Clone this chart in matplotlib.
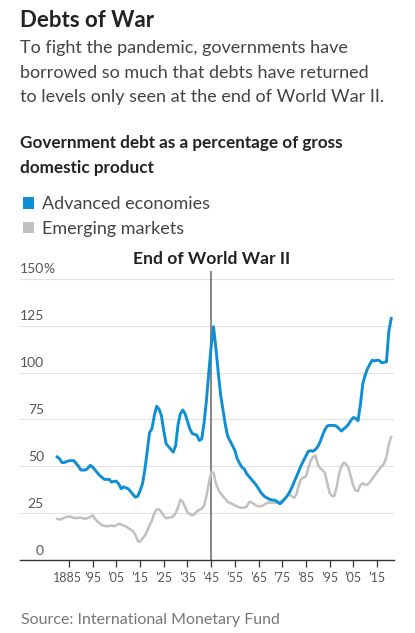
import numpy as np
import matplotlib.pyplot as plt
from matplotlib.patches import Rectangle
import matplotlib.transforms as mtransforms

# yearly values, 1880-2021 (% of GDP)
years = np.arange(1880, 2022)

advanced = [
    55, 54, 52, 52, 52.5, 53, 53, 53, 51.5, 50,
    48, 48, 48, 49, 50.5, 49.5, 48, 46.5, 45, 44,
    43, 43, 43, 41.5, 42, 42, 40.5, 38, 39, 38.5,
    38, 36.5, 35, 33.5, 34, 37, 40.5, 48, 58, 68,
    70, 77, 82, 80.5, 77, 69, 62, 60.5, 59, 57.5,
    61, 72, 78, 80, 78, 74, 70, 67.5, 67, 66.5,
    63.8, 64.5, 73, 85, 100, 114, 124.5, 113, 100, 88,
    80, 72, 66, 63.5, 61, 58.5, 54, 51.5, 49.5, 48.5,
    46, 44.5, 43, 41.5, 40, 38, 36, 34.5, 33.5, 32.8,
    32.2, 32, 31.8, 31, 30, 31, 32.5, 34, 36, 38.5,
    41.5, 44.5, 47.5, 50.5, 53, 55.5, 58, 58.3, 58, 59,
    60.5, 63, 66.5, 69.5, 71.5, 71.8, 71.8, 71.8, 71.3, 70,
    68.8, 70, 71, 72.5, 74.5, 76, 75.5, 74.3, 83, 94,
    98.6, 102, 104.5, 106.6, 106.2, 106.6, 106.4, 105.2, 105.5, 105.7,
    122, 128.8,
]

emerging = [
    22, 21.5, 22, 22.5, 23, 23.2, 23, 22.5, 22.3, 22.5,
    22.5, 22.3, 22, 22.5, 23, 23.8, 22, 20.5, 19.5, 18.5,
    18.2, 18, 18.2, 18.4, 18, 18.5, 19.3, 19, 18.3, 18,
    17, 16.2, 15.3, 13.5, 10.2, 9.8, 11.5, 13, 15.5, 18.5,
    21, 25, 27, 27, 25.5, 23.5, 22.2, 22.5, 22.8, 23.2,
    25, 28, 32.2, 31, 28.2, 25.5, 24.5, 23.8, 24.5, 26,
    26.8, 27.3, 29, 34, 41, 46.9, 46.5, 41, 37.5, 35.5,
    34, 32.5, 31, 30.5, 29.8, 29.1, 28.5, 28, 27.9, 27.9,
    28.5, 30.9, 30.8, 30, 29, 28.6, 28.8, 29.1, 30, 30.6,
    30.6, 30.6, 30.6, 30.8, 31, 31.8, 32.8, 34, 35, 34,
    33.2, 35, 40, 43.4, 44, 44.6, 49, 53, 55, 55.8,
    51, 49, 48, 46.5, 41, 35.7, 34, 34.2, 39, 46,
    50, 52, 51, 49, 44.2, 39.5, 37, 36.8, 40, 41,
    40, 40.3, 41.5, 43.4, 45, 47, 48.5, 50, 51.5, 55,
    62, 65.6,
]

tick_years = [1885, 1895, 1905, 1915, 1925, 1935, 1945, 1955, 1965, 1975, 1985, 1995, 2005, 2015]
tick_labels = ['1885', '\u201995', '\u201905', '\u201915', '\u201925', '\u201935', '\u201945',
               '\u201955', '\u201965', '\u201975', '\u201985', '\u201995', '\u201905', '\u201915']
y_ticks = [0, 25, 50, 75, 100, 125, 150]

BLUE = '#0f8fd3'
GREY = '#c0c0c0'
W, H = 415, 633

plt.rcParams['font.family'] = ['Lato', 'DejaVu Sans']

fig = plt.figure(figsize=(W / 100, H / 100), dpi=100)
ax = fig.add_axes([20 / W, 1 - 560 / H, 374 / W, (560 - 271) / H])

x_left = 1885 - (69 - 20) / 2.369
x_right = 2015 + (394 - 377) / 2.369
y_top = 150 + (278.8 - 271) / 1.8747
ax.set_xlim(x_left, x_right)
ax.set_ylim(0, y_top)

for v in y_ticks[1:]:
    ax.axhline(v, color='#e2e2e2', lw=0.8, zorder=0)
ax.axvline(1945, color='#666666', lw=1.1, zorder=1)

ax.plot(years, emerging, color=GREY, lw=1.8, zorder=2, solid_joinstyle='round')
ax.plot(years, advanced, color=BLUE, lw=2.1, zorder=3, solid_joinstyle='round')

for s in ['top', 'right', 'left']:
    ax.spines[s].set_visible(False)
ax.spines['bottom'].set_color('#333333')
ax.spines['bottom'].set_linewidth(1.0)
ax.set_yticks([])
ax.set_xticks(tick_years)
ax.set_xticklabels(tick_labels, fontsize=9, color='#555555')
ax.tick_params(axis='x', length=5, width=0.9, color='#333333', pad=4)
# nudge the first label left a bit so it clears the next one
first = ax.get_xticklabels()[0]
first.set_transform(first.get_transform() + mtransforms.ScaledTranslation(-2 / 100, 0, fig.dpi_scale_trans))

# y labels sit just above their gridlines, right-aligned
trans = mtransforms.blended_transform_factory(ax.transAxes, ax.transData)
lx = (44 - 20) / 374
for v in y_ticks:
    ax.text(lx, v + 1.8, str(v), transform=trans, ha='right', va='bottom',
            fontsize=10, color='#555555')
ax.text(lx - 0.002, 150 + 1.8, '%', transform=trans, ha='left', va='bottom', fontsize=10, color='#555555')

def ftext(x, y, s, **kw):
    fig.text(x / W, 1 - y / H, s, va='baseline', **kw)

ftext(20, 27, 'Debts of War', fontsize=16, fontweight='bold', color='#222222')
sub = ['To fight the pandemic, governments have',
       'borrowed so much that debts have returned',
       'to levels only seen at the end of World War II.']
for i, line in enumerate(sub):
    ftext(20, 53 + i * 24.5, line, fontsize=13, color='#444444')

ftext(20, 148, 'Government debt as a percentage of gross', fontsize=12.3, fontweight='bold', color='#222222')
ftext(20, 173, 'domestic product', fontsize=12.3, fontweight='bold', color='#222222')

for (label, col, yb) in [('Advanced economies', BLUE, 208.5), ('Emerging markets', GREY, 233.3)]:
    fig.patches.append(Rectangle((22.7 / W, 1 - yb / H), 11.6 / W, 11.6 / H,
                                 transform=fig.transFigure, color=col, lw=0))
    ftext(41.7, yb + 0.5, label, fontsize=13, color='#444444')

ftext(212, 264, 'End of World War II', fontsize=12.6, fontweight='bold', color='#222222', ha='center')
ftext(20.7, 624, 'Source: International Monetary Fund', fontsize=11.5, color='#777777')

fig.savefig('out.png', dpi=100)
